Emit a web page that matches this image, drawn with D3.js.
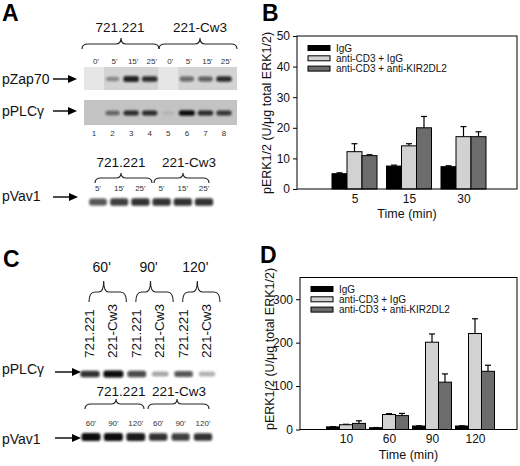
<!DOCTYPE html>
<html>
<head>
<meta charset="utf-8">
<script src="https://cdn.jsdelivr.net/npm/d3@7"></script>
<style>
  body { margin: 0; background: #fff; }
  svg { display: block; font-family: "Liberation Sans", Arial, sans-serif; }
</style>
</head>
<body>
<svg id="fig" width="520" height="466"></svg>
<script>
// ---- bar chart data ----
const seriesNames = ["IgG", "anti-CD3 + IgG", "anti-CD3 + anti-KIR2DL2"];
const seriesColors = ["#000000", "#d2d2d2", "#6c6c6c"];

const timesB = [5, 15, 30];
const igGB = [5.0, 7.5, 7.3];
const igGBErr = [0.3, 0.3, 0.3];
const cd3IgGB = [12.2, 14.1, 17.1];
const cd3IgGBErr = [2.6, 0.7, 3.3];
const cd3KirB = [10.9, 20.0, 17.1];
const cd3KirBErr = [0.3, 3.7, 1.6];
const ticksB = [0, 10, 20, 30, 40, 50];

const timesD = [10, 60, 90, 120];
const igGD = [6, 4, 8, 8];
const igGDErr = [0.5, 0.5, 0.5, 0.5];
const cd3IgGD = [11, 34.5, 201, 221];
const cd3IgGDErr = [1, 2, 19, 34];
const cd3KirD = [14, 32, 109, 134];
const cd3KirDErr = [6, 5, 19, 14];
const ticksD = [0, 100, 200, 300];

// ---- blot data (band intensity 0..1) ----
const cellLines = ["721.221", "221-Cw3"];
const laneTimesA = ["0'", "5'", "15'", "25'", "0'", "5'", "15'", "25'"];
const zapA = [0, 0.35, 0.9, 0.85, 0, 0.55, 0.6, 0.85];
const plcA = [0, 0.55, 0.85, 0.85, 0.08, 1.0, 0.85, 0.8];
const vavTimesA = ["5'", "15'", "25'", "5'", "15'", "25'"];
const vavA = [0.7, 0.8, 0.85, 0.85, 0.85, 0.85];
const timesC = ["60'", "90'", "120'"];
const plcC = [0.85, 1.0, 0.75, 0.35, 0.7, 0.3];
const vavTimesC = ["60'", "90'", "120'", "60'", "90'", "120'"];
const vavC = [1.0, 1.0, 0.95, 0.85, 0.8, 0.85];

const svg = d3.select("#fig");
svg.append("defs").append("filter").attr("id", "blur")
  .attr("x", "-50%").attr("y", "-50%").attr("width", "200%").attr("height", "200%")
  .append("feGaussianBlur").attr("stdDeviation", 0.9);

// panel letters
[["A", 2, 21], ["B", 262, 21], ["C", 3, 267], ["D", 260, 263]].forEach(function(d){
  svg.append("text").attr("x", d[1]).attr("y", d[2])
    .attr("font-size", 23).attr("font-weight", "bold").text(d[0]);
});

// ---------- helpers ----------
function brace(g, x1, x2, xm, yPeak, yMid, yEnd){
  const p = d3.path();
  p.moveTo(x1, yEnd);
  p.quadraticCurveTo(x1, yMid, x1 + 6, yMid);
  p.lineTo(xm - 5, yMid);
  p.quadraticCurveTo(xm, yMid, xm, yPeak);
  p.quadraticCurveTo(xm, yMid, xm + 5, yMid);
  p.lineTo(x2 - 6, yMid);
  p.quadraticCurveTo(x2, yMid, x2, yEnd);
  g.append("path").attr("d", p.toString())
    .attr("fill", "none").attr("stroke", "#222").attr("stroke-width", 1.1);
}

function arrow(g, x1, x2, y){
  g.append("line").attr("x1", x1).attr("x2", x2 - 6).attr("y1", y).attr("y2", y)
    .attr("stroke", "#000").attr("stroke-width", 1.4);
  g.append("path").attr("d", "M" + x2 + "," + y + "L" + (x2 - 9) + "," + (y - 4) + "L" + (x2 - 9) + "," + (y + 4) + "Z")
    .attr("fill", "#000");
}

function label(g, txt, x, y, size, anchor){
  return g.append("text").attr("x", x).attr("y", y).attr("font-size", size)
    .attr("text-anchor", anchor || "start").attr("fill", "#111").text(txt);
}

function bands(g, lane, vals, y, w, h){
  g.append("g").attr("filter", "url(#blur)")
    .selectAll("rect").data(vals).enter().append("rect")
    .attr("x", function(d, i){ return lane(i) - w * (0.75 + 0.25 * d) / 2; })
    .attr("width", function(d){ return w * (0.75 + 0.25 * d); })
    .attr("y", function(d){ return y - h * (0.6 + 0.4 * d) / 2; })
    .attr("height", function(d){ return h * (0.6 + 0.4 * d); })
    .attr("rx", 2.5)
    .attr("fill", "#0c0c0c")
    .attr("fill-opacity", function(d){ return d; });
}

// ---------- panel A ----------
const gA = svg.append("g");
const laneA = d3.scalePoint().domain(d3.range(8)).range([94, 224]);
label(gA, cellLines[0], 120, 32, 13.5, "middle");
label(gA, cellLines[1], 200, 32, 13.5, "middle");
brace(gA, 82, 159, 121, 38, 44, 49);
brace(gA, 159, 237, 200, 38, 44, 49);
gA.selectAll(".ta").data(laneTimesA).enter().append("text")
  .attr("x", function(d, i){ return laneA(i) + 2; }).attr("y", 64)
  .attr("font-size", 8).attr("text-anchor", "middle").attr("fill", "#333").text(function(d){ return d; });

// pZap70 blot
gA.append("rect").attr("x", 84).attr("y", 67).attr("width", 153).attr("height", 23).attr("fill", "#d3d3d3");
gA.selectAll(".bg0").data(zapA.map(function(v, i){ return [v, i]; }).filter(function(d){ return d[0] === 0; }))
  .enter().append("rect")
  .attr("x", function(d){ return laneA(d[1]) - 10; }).attr("width", 20)
  .attr("y", 67).attr("height", 23).attr("fill", "#e6e6e6");
bands(gA, laneA, zapA, 79, 16, 6);
label(gA, "pZap70", 2, 84, 14);
arrow(gA, 53, 77, 79);

// pPLCγ blot
gA.append("rect").attr("x", 84).attr("y", 100).attr("width", 153).attr("height", 25).attr("fill", "#c3c3c3");
bands(gA, laneA, plcA, 113, 16, 5.5);
label(gA, "pPLCγ", 2, 116, 14);
arrow(gA, 53, 77, 111);
gA.selectAll(".ln").data(zapA).enter().append("text")
  .attr("x", function(d, i){ return laneA(i); }).attr("y", 136)
  .attr("font-size", 8).attr("text-anchor", "middle").attr("fill", "#333")
  .text(function(d, i){ return i + 1; });

// pVav1 blot (A)
const laneAV = d3.scalePoint().domain(d3.range(6)).range([98, 204]);
label(gA, cellLines[0], 121, 167, 13.5, "middle");
label(gA, cellLines[1], 189, 167, 13.5, "middle");
brace(gA, 95, 152, 121, 173, 178, 183);
brace(gA, 154, 209, 183, 173, 178, 183);
gA.selectAll(".tv").data(vavTimesA).enter().append("text")
  .attr("x", function(d, i){ return laneAV(i); }).attr("y", 191)
  .attr("font-size", 8).attr("text-anchor", "middle").attr("fill", "#333").text(function(d){ return d; });
bands(gA, laneAV, vavA, 202, 19, 8);
label(gA, "pVav1", 2, 201, 14);
arrow(gA, 53, 78, 197);

// ---------- panel C ----------
const gC = svg.append("g");
const laneC = d3.scalePoint().domain(d3.range(6)).range([90, 207]);
timesC.forEach(function(t, k){
  const a = laneC(2 * k), b = laneC(2 * k + 1);
  label(gC, t, (a + b) / 2, 272, 14, "middle");
  brace(gC, a - 1, b + 13, (a + b) / 2 + 2, 281, 292, 302);
});
gC.selectAll(".rl").data(d3.range(6)).enter().append("text")
  .attr("transform", function(d){ return "translate(" + (laneC(d) + 4) + ",358) rotate(-90)"; })
  .attr("font-size", 13.5).attr("fill", "#111")
  .text(function(d){ return cellLines[d % 2]; });
bands(gC, laneC, plcC, 374, 20, 7);
label(gC, "pPLCγ", 2, 374, 14);
arrow(gC, 55, 81, 372);

const laneCV = d3.scalePoint().domain(d3.range(6)).range([91, 203]);
label(gC, cellLines[0], 121, 396, 13.5, "middle");
label(gC, cellLines[1], 179, 396, 13.5, "middle");
brace(gC, 85, 144, 116, 399, 404, 409);
brace(gC, 148, 209, 177, 399, 404, 409);
gC.selectAll(".tc").data(vavTimesC).enter().append("text")
  .attr("x", function(d, i){ return laneCV(i); }).attr("y", 426)
  .attr("font-size", 8).attr("text-anchor", "middle").attr("fill", "#333").text(function(d){ return d; });
bands(gC, laneCV, vavC, 437, 19, 8);
label(gC, "pVav1", 2, 444, 14);
arrow(gC, 55, 81, 438);

// ---------- bar charts ----------
function barChart(opt){
  const g = svg.append("g");
  const x = d3.scalePoint().domain(opt.times).range([opt.left + 3, opt.right + 1]).padding(1);
  const y = d3.scaleLinear().domain([0, opt.max]).range([opt.bottom, opt.top]);
  const series = [opt.s0, opt.s1, opt.s2];
  const errs = [opt.e0, opt.e1, opt.e2];
  const bw = opt.bw;

  series.forEach(function(vals, si){
    const sg = g.append("g");
    // error whiskers (upper only)
    sg.selectAll("line.err").data(vals).enter().append("line")
      .attr("x1", function(d, i){ return x(opt.times[i]) + (si - 1) * bw; })
      .attr("x2", function(d, i){ return x(opt.times[i]) + (si - 1) * bw; })
      .attr("y1", function(d){ return y(d); })
      .attr("y2", function(d, i){ return y(d + errs[si][i]); })
      .attr("stroke", "#000").attr("stroke-width", 1.2);
    sg.selectAll("line.cap").data(vals).enter().append("line")
      .attr("x1", function(d, i){ return x(opt.times[i]) + (si - 1) * bw - 3; })
      .attr("x2", function(d, i){ return x(opt.times[i]) + (si - 1) * bw + 3; })
      .attr("y1", function(d, i){ return y(d + errs[si][i]); })
      .attr("y2", function(d, i){ return y(d + errs[si][i]); })
      .attr("stroke", "#000").attr("stroke-width", 1.2);
    sg.selectAll("rect").data(vals).enter().append("rect")
      .attr("x", function(d, i){ return x(opt.times[i]) + (si - 1) * bw - bw / 2; })
      .attr("width", bw)
      .attr("y", function(d){ return y(d); })
      .attr("height", function(d){ return y(0) - y(d); })
      .attr("fill", seriesColors[si]).attr("stroke", "#000").attr("stroke-width", 1);
  });

  // frame
  g.append("rect").attr("x", opt.left).attr("y", opt.top)
    .attr("width", opt.right - opt.left).attr("height", opt.bottom - opt.top)
    .attr("fill", "none").attr("stroke", "#000").attr("stroke-width", 1);

  const ya = g.append("g").attr("transform", "translate(" + opt.left + ",0)")
    .call(d3.axisLeft(y).tickValues(opt.ticks).tickSize(4).tickSizeOuter(0).tickPadding(3));
  ya.select(".domain").remove();
  ya.selectAll("text").attr("font-size", 12).attr("font-family", "Liberation Sans, Arial, sans-serif").attr("fill", "#111");

  const xa = g.append("g").attr("transform", "translate(0," + opt.bottom + ")")
    .call(d3.axisBottom(x).tickSize(0).tickPadding(5));
  xa.select(".domain").remove();
  xa.selectAll("text").attr("font-size", 12).attr("font-family", "Liberation Sans, Arial, sans-serif").attr("fill", "#111");

  g.append("text").attr("x", (opt.left + opt.right) / 2).attr("y", opt.bottom + 29)
    .attr("text-anchor", "middle").attr("font-size", 12.5).attr("fill", "#111").text("Time (min)");
  g.append("text").attr("transform", "translate(" + (opt.left - 26) + "," + opt.labelY + ") rotate(-90)")
    .attr("text-anchor", "middle").attr("font-size", 12.5).attr("fill", "#111")
    .text("pERK1/2 (U/μg total ERK1/2)");

  // legend
  const lg = g.append("g").attr("transform", "translate(" + (opt.left + 11) + "," + opt.legendY + ")");
  seriesNames.forEach(function(n, i){
    lg.append("rect").attr("x", 0).attr("y", i * 10.3 - 2.5).attr("width", 22).attr("height", 5)
      .attr("fill", seriesColors[i]).attr("stroke", "#000").attr("stroke-width", 1);
    lg.append("text").attr("x", 28).attr("y", i * 10.3 + 3.5).attr("font-size", 10).attr("fill", "#111").text(n);
  });
}

barChart({ times: timesB, s0: igGB, s1: cd3IgGB, s2: cd3KirB,
  e0: igGBErr, e1: cd3IgGBErr, e2: cd3KirBErr, ticks: ticksB, max: 50,
  left: 297, right: 517, top: 36, bottom: 189, bw: 15, labelY: 113, legendY: 48 });

barChart({ times: timesD, s0: igGD, s1: cd3IgGD, s2: cd3KirD,
  e0: igGDErr, e1: cd3IgGDErr, e2: cd3KirDErr, ticks: ticksD, max: 350,
  left: 300, right: 517, top: 277.5, bottom: 429.5, bw: 13, labelY: 349, legendY: 289 });
</script>
</body>
</html>
